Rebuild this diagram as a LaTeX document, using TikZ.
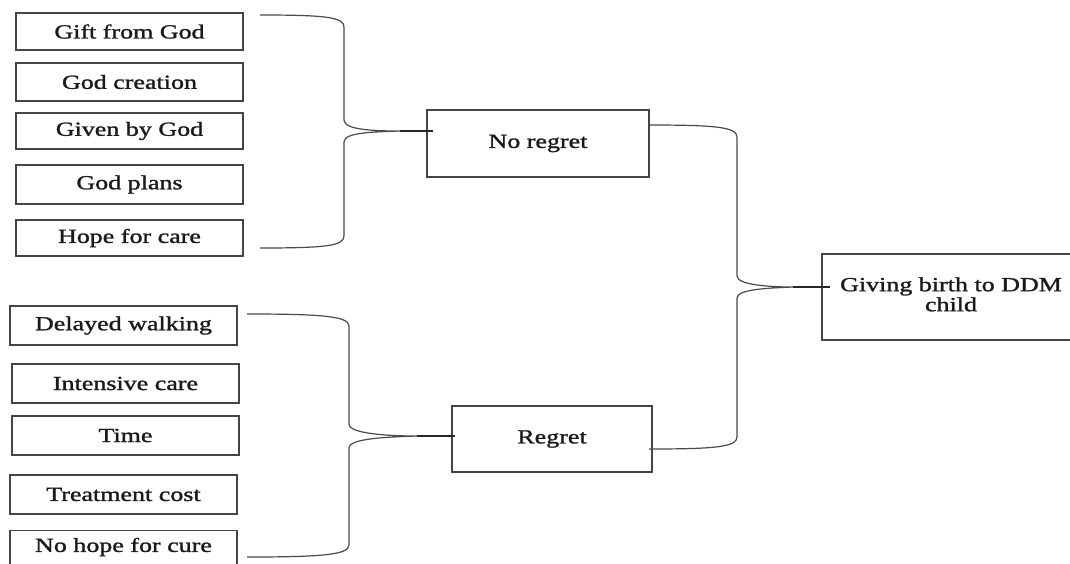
\documentclass[tikz,border=0pt]{standalone}
\usepackage{fontspec}
\setmainfont[FakeBold=1.2,BoldFont={Liberation Serif}]{Liberation Serif}
\newfontfamily\diagfont[FakeBold=1.2]{Liberation Serif}
\usepackage{graphicx}
\definecolor{boxgray}{HTML}{454545}
\definecolor{linegray}{HTML}{4A4A4A}
\definecolor{txt}{HTML}{1A1A1A}
\newcommand{\wt}[1]{\scalebox{1.3}[1]{\bfseries #1}}
\begin{document}
\begin{tikzpicture}[x=1pt,y=-1pt,
  box/.style={draw=boxgray, line width=1.3pt, inner sep=0pt, text=txt,
    font=\fontsize{20}{21}\selectfont},
  brace/.style={draw=linegray, line width=1.2pt},
  link/.style={draw=black!85, line width=1.3pt}]
\useasboundingbox (0,0) rectangle (1070,563);
\clip (0,0) rectangle (1070,563);
% top group
\node[box, minimum width=227pt, minimum height=37pt] (t1) at (129.5,31.5) {\wt{Gift from God}};
\node[box, minimum width=227pt, minimum height=38pt] (t2) at (129.5,82) {\wt{God creation}};
\node[box, minimum width=227pt, minimum height=36pt] (t3) at (129.5,131) {\wt{Given by God}};
\node[box, minimum width=227pt, minimum height=39pt] (t4) at (129.5,184.5) {\wt{God plans}};
\node[box, minimum width=227pt, minimum height=36pt] (t5) at (129.5,238) {\wt{Hope for care}};
% bottom group
\node[box, minimum width=227pt, minimum height=39pt] (b1) at (123.5,325.5) {\wt{Delayed walking}};
\node[box, minimum width=227pt, minimum height=39pt] (b2) at (125.5,383.5) {\wt{Intensive care}};
\node[box, minimum width=227pt, minimum height=39pt] (b3) at (125.5,435.5) {\wt{Time}};
\node[box, minimum width=227pt, minimum height=39pt] (b4) at (123.5,494.5) {\wt{Treatment cost}};
\node[box, minimum width=227pt, minimum height=50pt, anchor=north] (b5) at (123.5,530) {};
\node[text=txt, font=\fontsize{20}{21}\selectfont] (b5t) at (123.5,547) {\wt{No hope for cure}};
% middle
\node[box, minimum width=222pt, minimum height=67pt] (nr) at (538,143.5) {\wt{No regret}};
\node[box, minimum width=200pt, minimum height=66pt] (rg) at (552,439) {\wt{Regret}};
% right
\node[box, minimum width=258pt, minimum height=86pt] (gb) at (951,297)
  {\wt{\begin{tabular}{@{}c@{}}Giving birth to DDM\\[-1pt]child\end{tabular}}};
% top brace
\coordinate (ta) at (260,15);
\coordinate (tb) at (260,248);
\coordinate (tt) at (400,131);
\coordinate (te) at (433,131);
\draw[brace] (ta) .. controls (325,15) and (344,17) .. (344,27) -- (344,120)
  .. controls (344,130) and (375,131) .. (tt)
  .. controls (375,132) and (344,132) .. (344,142) -- (344,236)
  .. controls (344,246) and (325,248) .. (tb);
\draw[link] (tt) -- (te);
% bottom brace
\coordinate (ba) at (247,314);
\coordinate (bb) at (247,557);
\coordinate (bt) at (417,436);
\coordinate (be) at (455,436);
\draw[brace] (ba) .. controls (320,314) and (349,316) .. (349,326) -- (349,424)
  .. controls (349,434) and (390,436) .. (bt)
  .. controls (390,437) and (349,438) .. (349,448) -- (349,545)
  .. controls (349,555) and (320,557) .. (bb);
\draw[link] (bt) -- (be);
% right brace
\coordinate (ra) at (649,125);
\coordinate (rb) at (649,449);
\coordinate (rt) at (793,287);
\coordinate (re) at (830,287);
\draw[brace] (ra) .. controls (715,125) and (737,127) .. (737,137) -- (737,276)
  .. controls (737,285) and (770,287) .. (rt)
  .. controls (770,288) and (737,289) .. (737,298) -- (737,437)
  .. controls (737,447) and (715,449) .. (rb);
\draw[link] (rt) -- (re);
\end{tikzpicture}
\end{document}
